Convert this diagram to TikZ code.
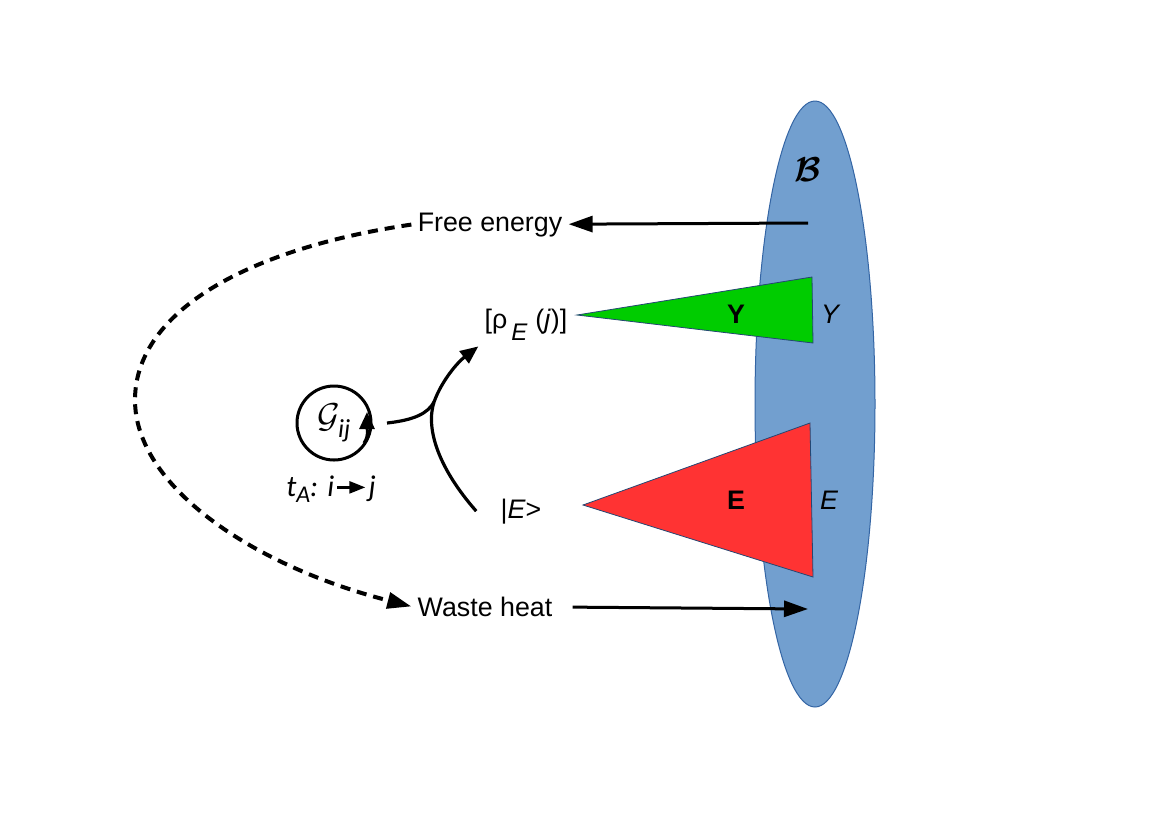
\documentclass[tikz,border=0pt]{standalone}
\usepackage{fontspec}
\usepackage{amsmath,bm}
\setmainfont{Liberation Sans}
\newfontfamily\calibri{Carlito}
\usetikzlibrary{shapes.geometric,arrows.meta}

\definecolor{bathblue}{HTML}{729FCF}
\definecolor{bathedge}{HTML}{3465A4}
\definecolor{ygreen}{HTML}{00CC00}
\definecolor{ered}{HTML}{FF3333}

\begin{document}
\begin{tikzpicture}[x=0.5pt, y=-0.5pt,
    lbl/.style={font=\fontsize{13.4}{16}\selectfont, anchor=base, inner sep=3pt},
    arr/.style={line width=1.5pt, -{Triangle[length=12pt,width=8pt]}},
    flow/.style={line width=1.6pt, -{Triangle[length=9pt,width=7.5pt]}},
    dashline/.style={line width=2pt, dash pattern=on 5pt off 3.5pt, -{Triangle[length=12pt,width=8pt]}},
    wedge/.style={draw=bathedge!70!black, line width=0.4pt}
]
\useasboundingbox (0,0) rectangle (1152,816);

% bath
\node[ellipse, draw=bathedge, fill=bathblue, line width=0.5pt, minimum width=60pt, minimum height=303pt, inner sep=0pt] (bath) at (815,404) {};
\node[font=\fontsize{18}{20}\selectfont] (bathname) at (808,170) {$\bm{\mathcal{B}}$};

% wedges
\filldraw[fill=ygreen, wedge] (577,315) -- (812,277) -- (813,343) -- cycle;
\filldraw[fill=ered, wedge] (583,505) -- (810,423) -- (813,577) -- cycle;
\node[lbl, font=\fontsize{13.4}{16}\selectfont\bfseries] (ybold) at (736,323) {Y};
\node[lbl, font=\fontsize{13.4}{16}\selectfont\itshape] (yname) at (830,323) {Y};
\node[lbl, font=\fontsize{13.4}{16}\selectfont\bfseries] (ebold) at (736,509) {E};
\node[lbl, font=\fontsize{13.4}{16}\selectfont\itshape] (ename) at (829,509) {E};

% energy flows
\node[lbl] (free) at (490,231) {Free energy};
\node[lbl] (waste) at (485,616) {Waste heat};
\coordinate (freetail) at (808,223);
\coordinate (wastehead) at (808,609);
\draw[arr] (freetail) -- (free);
\draw[arr, shorten <=7pt] (waste) -- (wastehead);
\draw[dashline] (free.west) .. controls (240,250) and (135,315) .. (135,400)
    .. controls (135,485) and (250,565) .. (waste.west);

% states
\node[lbl] (rho) at (526,328) {[ρ\kern2pt\raisebox{-6pt}{\fontsize{12}{14}\selectfont\itshape E}\kern4pt(\textit{j})]};
\node[lbl] (ket) at (521,518) {|\textit{E}>};

% cycle
\node[circle, draw, line width=1.5pt, minimum size=37pt, inner sep=0pt, outer sep=0pt,
    font=\fontsize{18}{20}\selectfont] (gij) at (334,423) {$\mathcal{G}$\kern-1pt\raisebox{-5pt}{\calibri\itshape\fontsize{13}{14}\selectfont ij}};
\coordinate (gbot) at (364,443);
\coordinate (gtop) at (367,412);
\draw[line width=1.5pt, -{Triangle[length=8.5pt,width=7.5pt]}] (gbot) .. controls (369,436) and (367,428) .. (gtop);
\node[font=\calibri\itshape\fontsize{15}{17}\selectfont, anchor=base] (trans) at (331,496)
    {t\raisebox{-3pt}{\fontsize{12}{13}\selectfont A}: i\kern1pt\tikz[baseline=-0.6ex]\draw[line width=1.2pt,-{Triangle[length=8pt,width=6pt]}] (0,0) -- (14pt,0);\kern1pt j};

\coordinate (merge) at (434,402);
\draw[line width=1.6pt] ([xshift=8pt]gij.east) .. controls (415,420) and (428,413) .. (merge);
\draw[flow] ([xshift=-9pt]ket.west) .. controls (440,470) and (425,430) .. (merge)
    .. controls (442,380) and (458,362) .. (rho.south west);
\end{tikzpicture}
\end{document}
